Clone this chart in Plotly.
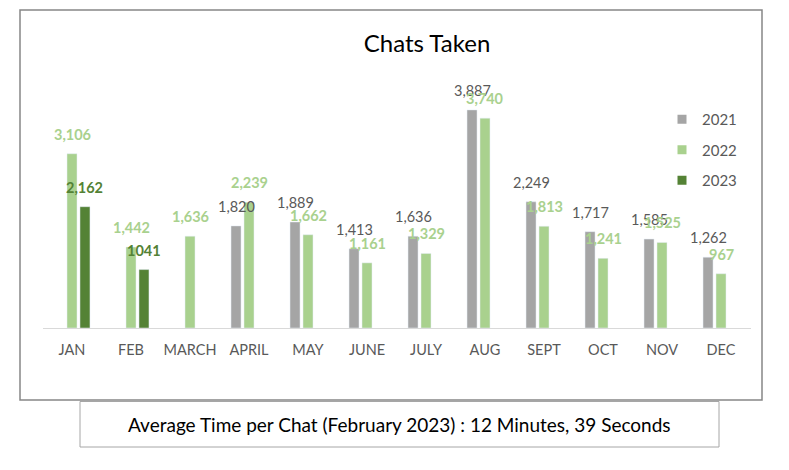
import plotly.graph_objects as go

months = ["JAN", "FEB", "MARCH", "APRIL", "MAY", "JUNE", "JULY", "AUG", "SEPT", "OCT", "NOV", "DEC"]
chats_2021 = [None, None, None, 1820, 1889, 1413, 1636, 3887, 2249, 1717, 1585, 1262]
chats_2022 = [3106, 1442, 1636, 2239, 1662, 1161, 1329, 3740, 1813, 1241, 1525, 967]
chats_2023 = [2162, 1041, None, None, None, None, None, None, None, None, None, None]
labels_2023 = ["2,162", "1041"]

title_text = "Chats Taken"
footer_text = "Average Time per Chat (February 2023) : 12 Minutes, 39 Seconds"

W, H = 789, 470
FONT = "Lato"
series = [
    ("2021", chats_2021, "#a5a5a5", "#595959", False),
    ("2022", chats_2022, "#a9d18e", "#a9d18e", True),
    ("2023", chats_2023, "#548235", "#548235", True),
]

x0_px, x1_px = 42.5, 750.5
ybot_px, ytop_px = 328, 80
bargap, bargroupgap = 0.34, 0.23
cat_px = (x1_px - x0_px) / len(months)
slot_px = cat_px * (1 - bargap) / len(series)

fig = go.Figure()
annotations = []
for i, (name, vals, color, lcolor, bold) in enumerate(series):
    fig.add_trace(go.Bar(x=months, y=vals, name=name, marker_color=color,
                         showlegend=False, hoverinfo="skip"))
    fig.add_trace(go.Scatter(x=[None], y=[None], mode="markers", name=name,
                             marker=dict(symbol="square", size=9, color=color),
                             legendgroup=name))
    shift = (i - 1) * slot_px
    for j, (m, v) in enumerate(zip(months, vals)):
        if v is None:
            continue
        txt = labels_2023[j] if name == "2023" else f"{v:,}"
        if bold:
            txt = f"<b>{txt}</b>"
        annotations.append(dict(x=m, y=v, xref="x", yref="y", text=txt, showarrow=False,
                                xanchor="center", yanchor="bottom", xshift=shift, yshift=9,
                                font=dict(family=FONT, size=14.5, color=lcolor)))

annotations.append(dict(x=0.5 * (80 + 719) / W, y=1 - 424 / H, xref="paper", yref="paper",
                        text=footer_text, showarrow=False, xanchor="center", yanchor="middle",
                        font=dict(family=FONT, size=19, color="#000000")))

shapes = [
    dict(type="rect", xref="paper", yref="paper", x0=20 / W, x1=762 / W,
         y0=1 - 400 / H, y1=1 - 10 / H, line=dict(color="#868686", width=1.5)),
    dict(type="rect", xref="paper", yref="paper", x0=80 / W, x1=719 / W,
         y0=1 - 447 / H, y1=1 - 401.5 / H, line=dict(color="#a6a6a6", width=1)),
]

fig.update_layout(
    width=W, height=H,
    margin=dict(l=0, r=0, t=0, b=0),
    paper_bgcolor="white", plot_bgcolor="white",
    barmode="group", bargap=bargap, bargroupgap=bargroupgap,
    title=dict(text=title_text, x=427 / W, xanchor="center", y=1 - 44 / H, yanchor="middle",
               font=dict(family=FONT, size=24, color="#000000")),
    xaxis=dict(domain=[x0_px / W, x1_px / W], showline=True, linecolor="#d9d9d9", linewidth=1,
               ticks="outside", ticklen=0, ticklabelstandoff=9,
               tickfont=dict(family=FONT, size=14.5, color="#595959"), showgrid=False),
    yaxis=dict(domain=[1 - ybot_px / H, 1 - ytop_px / H], range=[0, 4420], visible=False,
               showgrid=False, zeroline=False),
    legend=dict(x=662 / W, y=1 - 103 / H, xanchor="left", yanchor="top",
                font=dict(family=FONT, size=15, color="#595959"), tracegroupgap=8,
                bgcolor="rgba(0,0,0,0)"),
    annotations=annotations,
    shapes=shapes,
)

fig.write_html("out.html")
